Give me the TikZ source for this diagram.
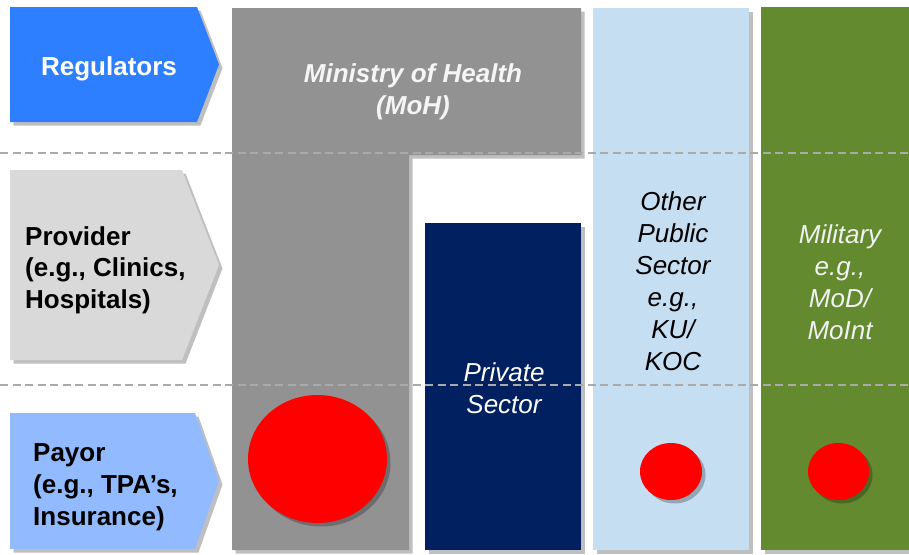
\documentclass[tikz,border=0pt]{standalone}
\usepackage{fontspec}
\setmainfont{Liberation Sans}
\usetikzlibrary{shadows,shapes.geometric}
\definecolor{regblue}{RGB}{46,127,255}
\definecolor{provgray}{RGB}{217,217,217}
\definecolor{payblue}{RGB}{146,186,255}
\definecolor{mohgray}{RGB}{146,146,146}
\definecolor{navy}{RGB}{0,32,96}
\definecolor{pubblue}{RGB}{198,222,242}
\definecolor{milgreen}{RGB}{99,138,47}
\definecolor{dashgray}{RGB}{170,170,170}
\tikzset{
  shad/.style={drop shadow={shadow xshift=3.5pt,shadow yshift=-3.5pt,opacity=0.25,fill=black}},
  bigtext/.style={font=\fontsize{26}{31.5}\selectfont, inner sep=0pt},
  rowline/.style={draw=dashgray, line width=1.8pt, dash pattern=on 8pt off 4.5pt},
  dot/.style={ellipse, fill=red, draw=none, inner sep=0pt, shad}
}
\begin{document}
\begin{tikzpicture}[x=1pt,y=-1pt]
\useasboundingbox (0,0) rectangle (909,554);
% chevrons
\fill[regblue, shad] (10,7) -- (197,7) -- (219,64.5) -- (197,122) -- (10,122) -- cycle;
\fill[provgray, shad] (10,170) -- (182,170) -- (219,265) -- (182,360) -- (10,360) -- cycle;
\fill[payblue, shad] (10,413) -- (195,413) -- (219,481) -- (195,549) -- (10,549) -- cycle;
% blocks
\fill[mohgray, shad] (232,8) -- (581,8) -- (581,155) -- (409,155) -- (409,550) -- (232,550) -- cycle;
\fill[navy, shad] (425,223) rectangle (581,550);
\fill[pubblue, shad] (593,8) rectangle (749,550);
\fill[milgreen, shad] (761,7) rectangle (912,550);
% dashed row separators
\coordinate (d1l) at (0,153);
\coordinate (d1r) at (909,153);
\coordinate (d2l) at (0,385);
\coordinate (d2r) at (909,385);
\draw[rowline] (d1l) -- (d1r);
\draw[rowline] (d2l) -- (d2r);
% circles
\node[dot, minimum width=139pt, minimum height=128pt] (c1) at (317.5,459) {};
\node[dot, minimum width=62pt, minimum height=57pt] (c2) at (671,471.5) {};
\node[dot, minimum width=61pt, minimum height=57pt] (c3) at (838.5,471.5) {};
% texts
\node[bigtext, text=white, font=\fontsize{26}{31.5}\selectfont\bfseries] (reg) at (109,69) {Regulators};
\node[bigtext, anchor=west, align=left, font=\fontsize{26}{31.5}\selectfont\bfseries] (prov) at (25,270) {Provider\\(e.g., Clinics,\\Hospitals)};
\node[bigtext, anchor=west, align=left, font=\fontsize{26}{32}\selectfont\bfseries] (pay) at (33,487) {Payor\\(e.g., TPA’s,\\Insurance)};
\node[bigtext, text=white!96!black, align=center, font=\fontsize{26}{31.5}\selectfont\bfseries\itshape] (moh) at (413,92) {Ministry of Health\\(MoH)};
\node[bigtext, align=center, font=\fontsize{26}{32}\selectfont\itshape] (pub) at (673,281) {Other\\Public\\Sector\\e.g.,\\KU/\\KOC};
\node[bigtext, text=white!95!black, align=center, font=\fontsize{26}{32}\selectfont\itshape] (mil) at (840,282) {Military\\e.g.,\\MoD/\\MoInt};
\node[bigtext, text=white, align=center, font=\fontsize{26}{32}\selectfont\itshape] (priv) at (504,388) {Private\\Sector};
\end{tikzpicture}
\end{document}
